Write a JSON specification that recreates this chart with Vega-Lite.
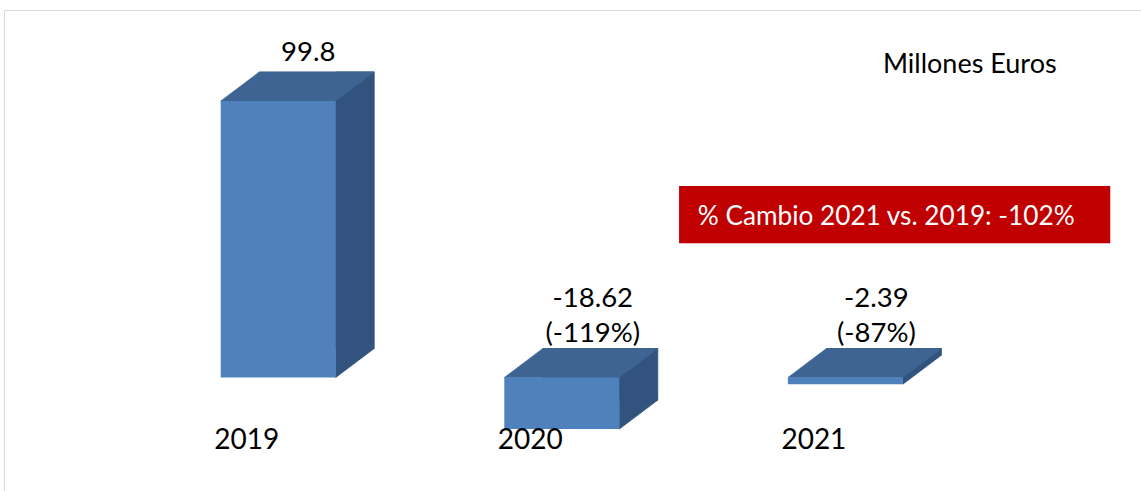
{
  "$schema": "https://vega.github.io/schema/vega-lite/v6.json",
  "width": 1137,
  "height": 481,
  "padding": {"left": 4, "top": 10, "right": 0, "bottom": 0},
  "autosize": {"type": "none"},
  "background": "white",
  "config": {
    "view": {"stroke": null},
    "font": "Lato",
    "axis": {"labels": false, "ticks": false, "grid": false, "domain": true, "domainColor": "#D9D9D9", "domainWidth": 1}
  },
  "data": {"values": [
    {"year": 2019, "value": 99.8, "label": "99.8"},
    {"year": 2020, "value": -18.62, "label": "-18.62 (-119%)"},
    {"year": 2021, "value": -2.39, "label": "-2.39 (-87%)"}
  ]},
  "layer": [
    {
      "mark": {"type": "bar", "orient": "vertical", "width": 115, "xOffset": 38.5, "yOffset": -29, "y2Offset": -29, "color": "#31537D", "stroke": "#31537D", "strokeWidth": 0.8},
      "encoding": {
        "x": {"field": "year", "type": "quantitative", "title": null, "scale": {"domain": [2018.0507, 2022.0248], "nice": false, "zero": false},
              "axis": {"orient": "top", "labels": false, "ticks": false, "grid": false, "domain": true, "domainColor": "#D9D9D9"}},
        "y": {"field": "value", "type": "quantitative", "title": null, "scale": {"domain": [-40.97, 132.67], "nice": false, "zero": false},
              "axis": {"orient": "left", "labels": false, "ticks": false, "grid": false, "domain": true, "domainColor": "#D9D9D9"}},
        "y2": {"datum": 0}
      }
    },
    {
      "mark": {"type": "point", "shape": "M57.5,0L57.5,-29L96,-29Z", "size": 4, "filled": true, "opacity": 1, "color": "#31537D", "stroke": "#31537D", "strokeWidth": 0.8},
      "encoding": {
        "x": {"field": "year", "type": "quantitative", "title": null},
        "y": {"field": "value", "type": "quantitative", "title": null}
      }
    },
    {
      "mark": {"type": "point", "shape": "M57.5,0L57.5,-29L96,-29Z", "size": 4, "filled": true, "opacity": 1, "color": "#31537D", "stroke": "#31537D", "strokeWidth": 0.8},
      "encoding": {
        "x": {"field": "year", "type": "quantitative", "title": null},
        "y": {"datum": 0, "title": null}
      }
    },
    {
      "transform": [{"filter": "datum.value >= 0"}],
      "mark": {"type": "point", "shape": "M-57.5,0L57.5,0L96,-29L-19,-29Z", "size": 4, "filled": true, "opacity": 1, "color": "#3D6493", "stroke": "#3D6493", "strokeWidth": 0.6},
      "encoding": {
        "x": {"field": "year", "type": "quantitative", "title": null},
        "y": {"field": "value", "type": "quantitative", "title": null}
      }
    },
    {
      "transform": [{"filter": "datum.value < 0"}],
      "mark": {"type": "point", "shape": "M-57.5,0L57.5,0L96,-29L-19,-29Z", "size": 4, "filled": true, "opacity": 1, "color": "#3D6493", "stroke": "#3D6493", "strokeWidth": 0.6},
      "encoding": {
        "x": {"field": "year", "type": "quantitative", "title": null},
        "y": {"datum": 0, "title": null}
      }
    },
    {
      "mark": {"type": "bar", "orient": "vertical", "width": 115, "color": "#4F81BD"},
      "encoding": {
        "x": {"field": "year", "type": "quantitative", "title": null},
        "y": {"field": "value", "type": "quantitative", "title": null},
        "y2": {"datum": 0}
      }
    },
    {
      "transform": [{"filter": "datum.value >= 0"}],
      "mark": {"type": "text", "fontSize": 27.5, "dx": 30, "dy": -48, "baseline": "middle", "align": "center", "color": "#000000", "lineBreak": " ", "lineHeight": 35},
      "encoding": {
        "x": {"field": "year", "type": "quantitative", "title": null},
        "y": {"field": "value", "type": "quantitative", "title": null},
        "text": {"field": "label", "type": "nominal"}
      }
    },
    {
      "transform": [{"filter": "datum.value < 0"}],
      "mark": {"type": "text", "fontSize": 27.5, "dx": 31, "dy": -78.5, "baseline": "middle", "align": "center", "color": "#000000", "lineBreak": " ", "lineHeight": 35},
      "encoding": {
        "x": {"field": "year", "type": "quantitative", "title": null},
        "y": {"datum": 0, "title": null},
        "text": {"field": "label", "type": "nominal"}
      }
    },
    {
      "mark": {"type": "text", "fontSize": 28, "dx": -31.5, "dy": 63, "baseline": "middle", "align": "center", "color": "#000000"},
      "encoding": {
        "x": {"field": "year", "type": "quantitative", "title": null},
        "y": {"datum": 0, "title": null},
        "text": {"field": "year", "type": "ordinal"}
      }
    },
    {
      "data": {"values": [{"note": "Millones Euros"}]},
      "mark": {"type": "text", "fontSize": 27, "baseline": "alphabetic", "align": "center", "color": "#000000"},
      "encoding": {
        "x": {"datum": 2021.4387, "title": null},
        "y": {"datum": 110.0, "title": null},
        "text": {"field": "note", "type": "nominal"}
      }
    },
    {
      "data": {"values": [{"note": "% Cambio 2021 vs. 2019: -102%"}]},
      "mark": {"type": "rect", "color": "#C00000"},
      "encoding": {
        "x": {"datum": 2020.4135, "title": null},
        "x2": {"datum": 2021.934},
        "y": {"datum": 69.13, "title": null},
        "y2": {"datum": 48.45}
      }
    },
    {
      "data": {"values": [{"note": "% Cambio 2021 vs. 2019: -102%"}]},
      "mark": {"type": "text", "fontSize": 26.2, "baseline": "alphabetic", "align": "center", "color": "#FFFFFF"},
      "encoding": {
        "x": {"datum": 2021.144, "title": null},
        "y": {"datum": 55.05, "title": null},
        "text": {"field": "note", "type": "nominal"}
      }
    }
  ]
}
